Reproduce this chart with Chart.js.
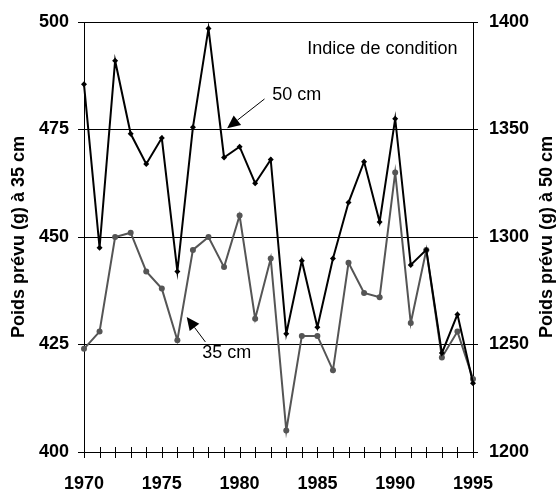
<!DOCTYPE html>
<html>
<head>
    <title>Indice de condition</title>
    <script src="https://cdn.jsdelivr.net/npm/chart.js"></script>
    <style>
        body {
            margin: 0;
            background-color: white;
        }
        .chart-container {
            width: 557px;
            height: 492px;
        }
    </style>
</head>
<body>
    <div class="chart-container">
        <canvas id="poidsChart"></canvas>
    </div>

    <script>
        // Data
        const years = [1970, 1971, 1972, 1973, 1974, 1975, 1976, 1977, 1978, 1979,
                       1980, 1981, 1982, 1983, 1984, 1985, 1986, 1987, 1988, 1989,
                       1990, 1991, 1992, 1993, 1994, 1995];
        const poids50cm = [1371, 1295, 1382, 1348, 1334, 1346, 1284, 1351, 1397, 1337,
                           1342, 1325, 1336, 1255, 1289, 1258, 1290, 1316, 1335, 1307,
                           1355, 1287, 1294, 1246, 1264, 1232];
        const poids35cm = [424, 428, 450, 451, 442, 438, 426, 447, 450, 443,
                           455, 431, 445, 405, 427, 427, 419, 444, 437, 436,
                           465, 430, 447, 422, 428, 417];
        const leftTitle = 'Poids prévu (g) à 35 cm';
        const rightTitle = 'Poids prévu (g) à 50 cm';

        const FONT = "'Liberation Sans', Arial, sans-serif";

        // Text notes and arrows, placed in data units (x = year, y = left axis)
        const notes = [
            { text: 'Indice de condition', x: 1994, y: 493.8, align: 'right' },
            { text: '50 cm', x: 1982.1, y: 483.1, align: 'left' },
            { text: '35 cm', x: 1977.6, y: 422.9, align: 'left' }
        ];
        const arrows = [
            { from: [1981.6, 482.1], to: [1979.2, 475.3] },
            { from: [1977.8, 425.6], to: [1976.6, 431.4] }
        ];

        const decorations = {
            id: 'decorations',
            afterDraw(chart) {
                const c = chart.ctx;
                const x = chart.scales.x;
                const y = chart.scales.y;
                const area = chart.chartArea;

                // year ticks crossing the x axis
                c.save();
                c.strokeStyle = '#000';
                c.lineWidth = 1;
                c.beginPath();
                years.forEach(yr => {
                    const px = Math.round(x.getPixelForValue(yr)) + 0.5;
                    c.moveTo(px, area.bottom - 5);
                    c.lineTo(px, area.bottom + 6);
                });
                c.stroke();

                // axis titles, both reading bottom to top
                c.fillStyle = '#000';
                c.font = 'bold 18px ' + FONT;
                c.textAlign = 'center';
                c.textBaseline = 'middle';
                const midY = (area.top + area.bottom) / 2;
                [[19, leftTitle], [547, rightTitle]].forEach(([tx, t]) => {
                    c.save();
                    c.translate(tx, midY);
                    c.rotate(-Math.PI / 2);
                    c.fillText(t, 0, 0);
                    c.restore();
                });

                // notes
                c.font = '18px ' + FONT;
                notes.forEach(n => {
                    c.textAlign = n.align;
                    c.fillText(n.text, x.getPixelForValue(n.x), y.getPixelForValue(n.y));
                });

                // arrows
                arrows.forEach(a => {
                    const x1 = x.getPixelForValue(a.from[0]), y1 = y.getPixelForValue(a.from[1]);
                    const x2 = x.getPixelForValue(a.to[0]), y2 = y.getPixelForValue(a.to[1]);
                    const ang = Math.atan2(y2 - y1, x2 - x1);
                    const head = 13, half = 6;
                    const bx = x2 - head * Math.cos(ang), by = y2 - head * Math.sin(ang);
                    c.beginPath();
                    c.moveTo(x1, y1);
                    c.lineTo(bx, by);
                    c.lineWidth = 1;
                    c.stroke();
                    c.beginPath();
                    c.moveTo(x2, y2);
                    c.lineTo(bx + half * Math.sin(ang), by - half * Math.cos(ang));
                    c.lineTo(bx - half * Math.sin(ang), by + half * Math.cos(ang));
                    c.closePath();
                    c.fill();
                });
                c.restore();
            }
        };

        const ctx = document.getElementById('poidsChart').getContext('2d');
        const chart = new Chart(ctx, {
            type: 'line',
            data: {
                datasets: [{
                    label: '50 cm',
                    data: years.map((yr, i) => ({ x: yr, y: poids50cm[i] })),
                    yAxisID: 'y2',
                    borderColor: '#000000',
                    backgroundColor: '#000000',
                    borderWidth: 2,
                    pointStyle: 'rectRot',
                    pointRadius: 3,
                    pointBorderWidth: 0,
                    tension: 0,
                    clip: false,
                    fill: false
                }, {
                    label: '35 cm',
                    data: years.map((yr, i) => ({ x: yr, y: poids35cm[i] })),
                    yAxisID: 'y',
                    borderColor: '#555555',
                    backgroundColor: '#555555',
                    borderWidth: 2,
                    pointStyle: 'circle',
                    pointRadius: 3,
                    pointBorderWidth: 0,
                    tension: 0,
                    clip: false,
                    fill: false
                }]
            },
            options: {
                responsive: true,
                maintainAspectRatio: false,
                animation: false,
                layout: {
                    padding: { top: 22, left: 0, right: 0, bottom: 0 }
                },
                plugins: {
                    legend: { display: false },
                    tooltip: { enabled: false }
                },
                scales: {
                    x: {
                        type: 'linear',
                        min: 1970,
                        max: 1995,
                        afterFit: s => { s.height = 40; },
                        border: { display: true, color: '#000', width: 1 },
                        grid: { drawOnChartArea: false, drawTicks: false },
                        ticks: {
                            stepSize: 1,
                            autoSkip: false,
                            maxRotation: 0,
                            padding: 21,
                            color: '#000',
                            font: { family: FONT, size: 18, weight: 'bold' },
                            callback: v => (v % 5 === 0 ? String(v) : '')
                        }
                    },
                    y: {
                        position: 'left',
                        min: 400,
                        max: 500,
                        afterFit: s => { s.width = 84; },
                        border: { display: true, color: '#000', width: 1 },
                        grid: { color: '#000', lineWidth: 1, tickLength: 6 },
                        ticks: {
                            stepSize: 25,
                            padding: 9,
                            color: '#000',
                            font: { family: FONT, size: 18, weight: 'bold' },
                            callback: v => String(v)
                        }
                    },
                    y2: {
                        position: 'right',
                        min: 1200,
                        max: 1400,
                        afterFit: s => { s.width = 84; },
                        border: { display: true, color: '#000', width: 1 },
                        grid: { drawOnChartArea: false, color: '#000', tickLength: 5 },
                        ticks: {
                            stepSize: 50,
                            padding: 11,
                            color: '#000',
                            font: { family: FONT, size: 18, weight: 'bold' },
                            callback: v => String(v)
                        }
                    }
                }
            },
            plugins: [decorations]
        });
    </script>
</body>
</html>
